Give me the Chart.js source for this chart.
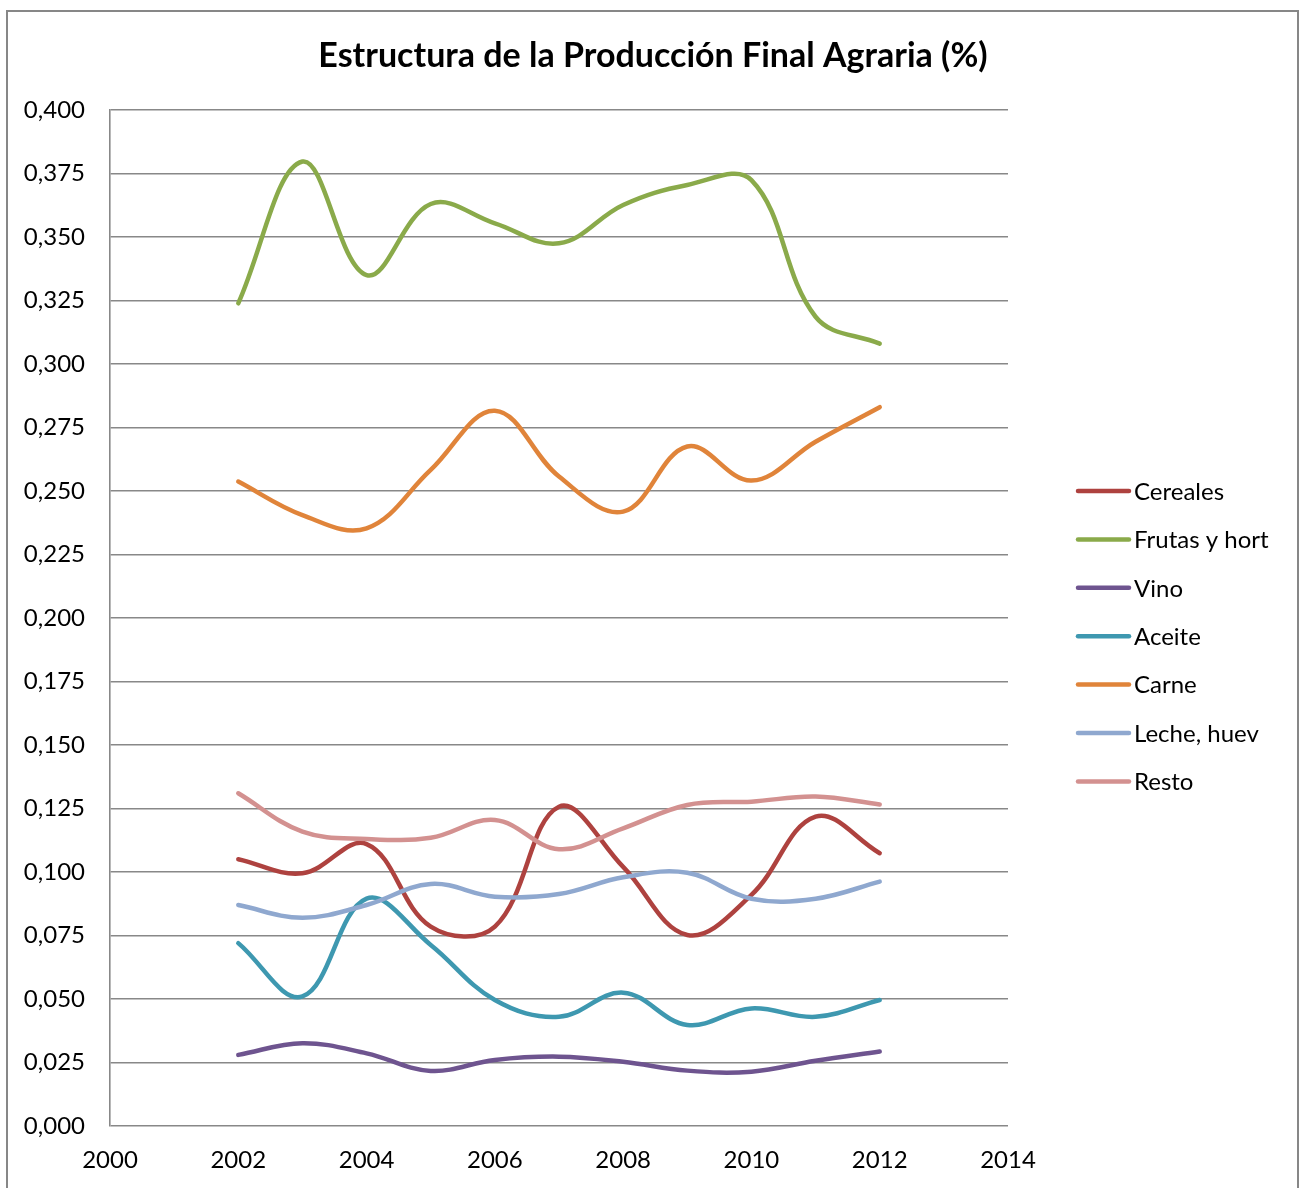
<!DOCTYPE html>
<html>
<head>
<meta charset="utf-8">
<script src="https://cdn.jsdelivr.net/npm/chart.js@4.4.0/dist/chart.umd.min.js"></script>
<style>
  html, body { margin: 0; padding: 0; background: #fff; }
  #wrap { width: 1304px; height: 1188px; position: relative; }
</style>
</head>
<body>
<div id="wrap"><canvas id="chart" width="1304" height="1188"></canvas></div>
<script>
// Data
const years = [2002, 2003, 2004, 2005, 2006, 2007, 2008, 2009, 2010, 2011, 2012];

const cereales = [0.105, 0.0995, 0.111, 0.0785, 0.0785, 0.1257, 0.102, 0.0752, 0.091, 0.1218, 0.1074];
const frutas   = [0.3239, 0.3797, 0.335, 0.363, 0.3554, 0.3475, 0.3626, 0.3705, 0.3724, 0.3186, 0.308];
const vino     = [0.028, 0.0326, 0.0286, 0.0217, 0.026, 0.0273, 0.0253, 0.0218, 0.0214, 0.0257, 0.0293];
const aceite   = [0.072, 0.051, 0.0895, 0.0713, 0.0496, 0.043, 0.0525, 0.0398, 0.0463, 0.043, 0.0496];
const carne    = [0.2537, 0.2405, 0.2353, 0.2583, 0.2816, 0.2557, 0.2419, 0.2675, 0.2541, 0.2694, 0.283];
const leche    = [0.087, 0.082, 0.087, 0.0953, 0.0903, 0.0913, 0.0979, 0.0997, 0.0895, 0.0895, 0.0962];
const resto    = [0.131, 0.1159, 0.113, 0.1135, 0.1205, 0.109, 0.1172, 0.1264, 0.1277, 0.1297, 0.1266];

const seriesNames = ['Cereales', 'Frutas y hort', 'Vino', 'Aceite', 'Carne', 'Leche, huev', 'Resto'];
const seriesValues = [cereales, frutas, vino, aceite, carne, leche, resto];
const seriesColors = ['#AE423F', '#8AAA4A', '#6E548F', '#3E98B0', '#E0843A', '#8FA8CF', '#D39190'];

const chartTitle = 'Estructura de la Producción Final Agraria (%)';
const FONT = 'Lato, "Open Sans", sans-serif';

// Build datasets, later series drawn on top (like Excel)
const datasets = seriesNames.map((name, i) => ({
  label: name,
  data: years.map((yr, j) => ({ x: yr, y: seriesValues[i][j] })),
  borderColor: seriesColors[i],
  backgroundColor: seriesColors[i],
  borderWidth: 4.5,
  borderCapStyle: 'round',
  borderJoinStyle: 'round',
  pointRadius: 0,
  fill: false,
  tension: 0.38,
  order: seriesNames.length - 1 - i
}));

// White background, outer border and title
const frame = {
  id: 'frame',
  beforeDraw(chart) {
    const ctx = chart.ctx;
    ctx.save();
    ctx.fillStyle = '#fff';
    ctx.fillRect(0, 0, chart.width, chart.height);
    ctx.strokeStyle = '#878787';
    ctx.lineWidth = 2;
    ctx.strokeRect(7, 11, 1291, 1200);
    ctx.fillStyle = '#000';
    ctx.font = 'bold 34px ' + FONT;
    ctx.textAlign = 'center';
    ctx.textBaseline = 'middle';
    ctx.fillText(chartTitle, 653, 56);
    ctx.restore();
  }
};

// Legend on the right, Excel style
const sideLegend = {
  id: 'sideLegend',
  afterDraw(chart) {
    const ctx = chart.ctx;
    ctx.save();
    ctx.font = '24px ' + FONT;
    ctx.textBaseline = 'middle';
    ctx.fillStyle = '#000';
    chart.data.datasets.forEach((ds, i) => {
      const y = 491 + i * 48.4;
      ctx.strokeStyle = ds.borderColor;
      ctx.lineWidth = 4.5;
      ctx.lineCap = 'round';
      ctx.beginPath();
      ctx.moveTo(1078, y);
      ctx.lineTo(1129, y);
      ctx.stroke();
      ctx.fillText(ds.label, 1134, y + 1);
    });
    ctx.restore();
  }
};

const fmt = v => v.toFixed(3).replace('.', ',');

new Chart(document.getElementById('chart').getContext('2d'), {
  type: 'line',
  data: { datasets: datasets },
  options: {
    responsive: false,
    animation: false,
    layout: { padding: { top: 110, right: 296, left: 0, bottom: 0 } },
    plugins: {
      legend: { display: false },
      tooltip: { enabled: false },
      title: { display: false }
    },
    scales: {
      x: {
        type: 'linear',
        min: 2000,
        max: 2014,
        afterFit: s => { s.height = 62; },
        ticks: {
          stepSize: 2,
          color: '#000',
          font: { family: FONT, size: 24 },
          padding: 20,
          callback: v => String(v)
        },
        grid: { display: false, drawTicks: false },
        border: { display: false }
      },
      y: {
        min: 0,
        max: 0.4,
        afterFit: s => { s.width = 110; },
        ticks: {
          stepSize: 0.025,
          color: '#000',
          font: { family: FONT, size: 24 },
          padding: 25,
          callback: v => fmt(v)
        },
        grid: { color: '#888', lineWidth: 1.6, drawTicks: false },
        border: { display: true, color: '#888', width: 1.6 }
      }
    }
  },
  plugins: [frame, sideLegend]
});
</script>
</body>
</html>
